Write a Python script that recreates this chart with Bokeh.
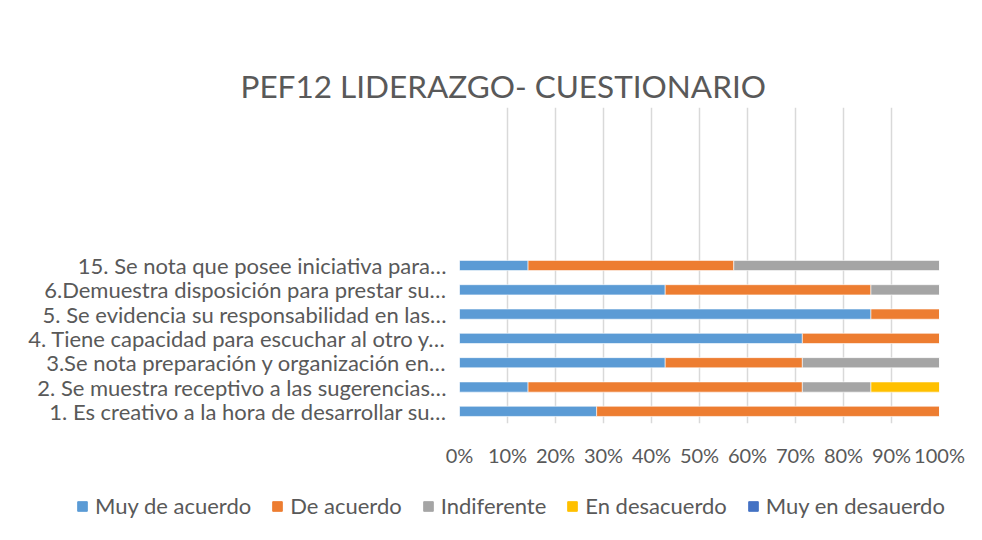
from bokeh.plotting import figure
from bokeh.layouts import column, row
from bokeh.models import (ColumnDataSource, Range1d, FixedTicker, NumeralTickFormatter,
                          Legend, LegendItem, Title)
from bokeh.embed import file_html
from bokeh.resources import INLINE

# ---- data (counts of responses, 7 per question) ----
questions = [
    "1. Es creativo a la hora de desarrollar su…",
    "2. Se muestra receptivo a las sugerencias…",
    "3.Se nota preparación y organización en…",
    "4. Tiene capacidad para escuchar al otro y…",
    "5. Se evidencia su responsabilidad en las…",
    "6.Demuestra disposición para prestar su…",
    "15. Se nota que posee iniciativa para…",
]
muy_de_acuerdo = [2, 1, 3, 5, 6, 3, 1]
de_acuerdo = [5, 4, 2, 2, 1, 3, 3]
indiferente = [0, 1, 2, 0, 0, 1, 3]
en_desacuerdo = [0, 1, 0, 0, 0, 0, 0]
muy_en_desacuerdo = [0, 0, 0, 0, 0, 0, 0]
series_names = ["Muy de acuerdo", "De acuerdo", "Indiferente", "En desacuerdo", "Muy en desauerdo"]
series_colors = ["#5B9BD5", "#ED7D31", "#A5A5A5", "#FFC000", "#4472C4"]
x_ticks = [0, 0.1, 0.2, 0.3, 0.4, 0.5, 0.6, 0.7, 0.8, 0.9, 1.0]
n_slots = 13  # category slots on the axis (upper ones empty)

series = [muy_de_acuerdo, de_acuerdo, indiferente, en_desacuerdo, muy_en_desacuerdo]
totals = [sum(v) for v in zip(*series)]
ypos = [i + 0.5 for i in range(len(questions))]
data = {"y": ypos}
for name, vals in zip(series_names, series):
    data[name] = [v / t for v, t in zip(vals, totals)]
source = ColumnDataSource(data)

TXT = "#595959"
FONT = "Lato"

p = figure(width=982, height=490, output_backend="svg", toolbar_location=None,
           x_range=Range1d(0, 1), y_range=Range1d(0, n_slots),
           min_border_left=459, min_border_right=43, min_border_top=107, min_border_bottom=67)
p.outline_line_color = None
p.background_fill_color = "white"
p.border_fill_color = "white"

p.hbar_stack(series_names, y="y", height=0.42, source=source,
             color=series_colors, line_color="white", line_width=0.6)

# axes
p.xaxis.ticker = FixedTicker(ticks=x_ticks)
p.xaxis.formatter = NumeralTickFormatter(format="0%")
p.xaxis.axis_line_color = None
p.xaxis.major_tick_line_color = None
p.xaxis.minor_tick_line_color = None
p.xaxis.major_label_text_font = FONT
p.xaxis.major_label_text_font_size = "20px"
p.xaxis.major_label_text_color = TXT
p.xaxis.major_label_standoff = 13

p.yaxis.ticker = FixedTicker(ticks=ypos)
p.yaxis.major_label_overrides = {y: q for y, q in zip(ypos, questions)}
p.yaxis.axis_line_color = None
p.yaxis.major_tick_line_color = None
p.yaxis.minor_tick_line_color = None
p.yaxis.major_label_text_font = FONT
p.yaxis.major_label_text_font_size = "22px"
p.yaxis.major_label_text_color = TXT
p.yaxis.major_label_standoff = 7

p.xgrid.ticker = FixedTicker(ticks=x_ticks)
p.xgrid.grid_line_color = "#d9d9d9"
p.xgrid.grid_line_width = 1.5
p.ygrid.grid_line_color = None

# title
title = Title(text="PEF12 LIDERAZGO- CUESTIONARIO", align="left", offset=-219,
              text_font=FONT, text_font_size="31.5px", text_color=TXT,
              text_font_style="normal", standoff=6)
p.add_layout(title, "above")

# legend strip below the chart (key swatches only; they lie outside the strip's ranges)
pl = figure(width=982, height=50, output_backend="svg", toolbar_location=None,
            x_range=Range1d(0, 1), y_range=Range1d(0, 1),
            min_border_left=0, min_border_right=0, min_border_top=0, min_border_bottom=0)
pl.xaxis.visible = False
pl.yaxis.visible = False
pl.xgrid.grid_line_color = None
pl.ygrid.grid_line_color = None
pl.outline_line_color = None
pl.border_fill_color = "white"
pl.background_fill_color = "white"
key_renderers = [pl.hbar(y=[0.5], left=[2], right=[3], height=0.5, color=c) for c in series_colors]
items = [LegendItem(label=n, renderers=[r]) for n, r in zip(series_names, key_renderers)]
legend = Legend(items=items, orientation="horizontal", location=(76, 21),
                glyph_width=12, glyph_height=12, label_text_font=FONT,
                label_text_font_size="22px", label_text_color=TXT, spacing=20,
                label_standoff=7, padding=0, margin=0, border_line_color=None,
                background_fill_alpha=0)
pl.add_layout(legend, "center")

open("out.html", "w").write(file_html(column(p, row(pl), spacing=0), INLINE))
